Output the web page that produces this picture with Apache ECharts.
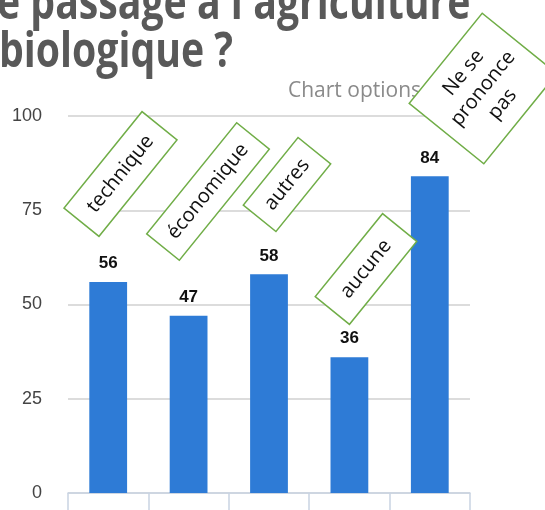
<!DOCTYPE html>
<html>
<head>
<meta charset="utf-8">
<script src="https://cdn.jsdelivr.net/npm/echarts@6/dist/echarts.min.js"></script>
<style>html,body{margin:0;padding:0;background:#fff;}#c{width:545px;height:510px;}</style>
</head>
<body>
<div id="c"></div>
<script>
var categories = ['technique', 'économique', 'autres', 'aucune', 'Ne se prononce pas'];
var values = [56, 47, 58, 36, 84];
var yTicks = [0, 25, 50, 75, 100];
var titleLines = ["e passage à l'agriculture", 'biologique ?'];
var boxLabels = ['technique', 'économique', 'autres', 'aucune', 'Ne se\nprononce\npas'];

var chart = echarts.init(document.getElementById('c'), null, {renderer: 'canvas'});

var boxGeom = [
  {x: 120.5, y: 174, w: 124, h: 45},
  {x: 208, y: 191.5, w: 143, h: 42},
  {x: 287, y: 184.5, w: 87, h: 42},
  {x: 366, y: 269, w: 107, h: 44},
  {x: 483, y: 88.5, w: 116, h: 96}
];
var rot = 51 * Math.PI / 180;
var graphics = [
  {type: 'text', x: -3, y: 5, scaleX: 0.98, scaleY: 1.2, z: 50, style: {text: titleLines[0], font: 'bold 40px "Open Sans"', fill: '#595959', verticalAlign: 'middle'}},
  {type: 'text', x: -1, y: 53, scaleX: 0.98, scaleY: 1.2, z: 50, style: {text: titleLines[1], font: 'bold 40px "Open Sans"', fill: '#595959', verticalAlign: 'middle'}},
  {type: 'text', x: 288, y: 91, z: 50, style: {text: 'Chart options', font: '21px "Open Sans"', fill: '#8a8a8a', verticalAlign: 'middle'}}
];
boxGeom.forEach(function (g, i) {
  graphics.push({
    type: 'group', x: g.x, y: g.y, rotation: rot, z: 100,
    children: [
      {type: 'rect', z: 100, shape: {x: -g.w / 2, y: -g.h / 2, width: g.w, height: g.h},
       style: {fill: '#fff', stroke: '#70ad47', lineWidth: 1.5}},
      {type: 'text', z: 101, x: 0, y: 0,
       style: {text: boxLabels[i], font: '20px "Open Sans"', fill: '#111', align: 'center', verticalAlign: 'middle', lineHeight: 25}}
    ]
  });
});

chart.setOption({
  animation: false,
  grid: {left: 68, right: 75, top: 116, bottom: 17},
  xAxis: {
    type: 'category', data: categories,
    axisLine: {show: true, lineStyle: {color: '#c9d3e2', width: 1.5}},
    axisTick: {show: true, interval: 0, length: 20, lineStyle: {color: '#c9d3e2', width: 1.5}},
    axisLabel: {show: false, interval: 0}
  },
  yAxis: {
    type: 'value', min: yTicks[0], max: yTicks[yTicks.length - 1], interval: 25,
    axisLine: {show: false}, axisTick: {show: false},
    axisLabel: {color: '#444', fontSize: 18, fontFamily: 'Liberation Sans, Arial', margin: 26},
    splitLine: {lineStyle: {color: '#dcdcdc', width: 2}}
  },
  series: [{
    type: 'bar', data: values, barWidth: '47%',
    itemStyle: {color: '#2e7bd6'},
    label: {show: true, position: 'top', distance: 10, color: '#111', fontWeight: 'bold', fontSize: 17, fontFamily: 'Liberation Sans, Arial'}
  }],
  graphic: graphics
});
</script>
</body>
</html>
